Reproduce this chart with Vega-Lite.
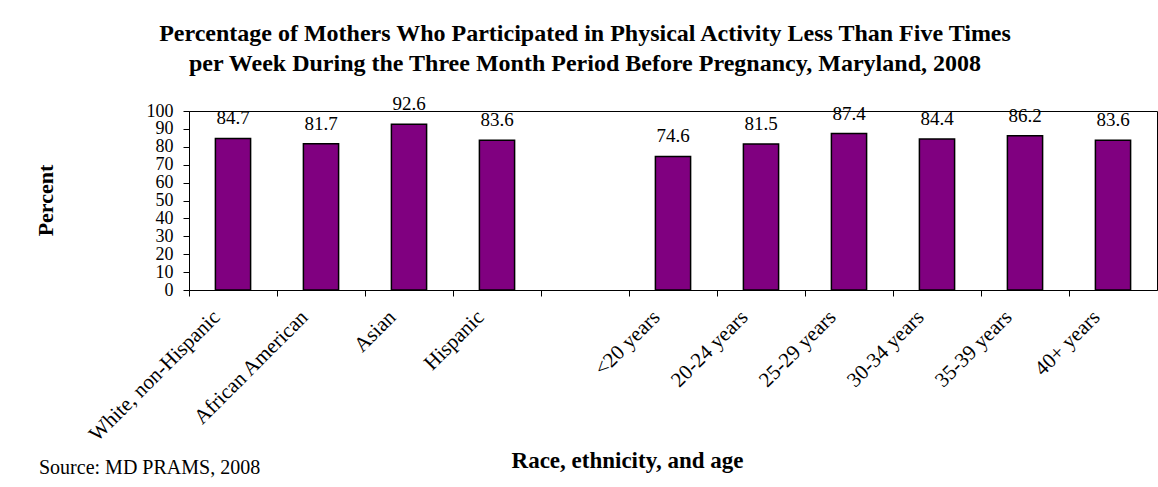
{
  "$schema": "https://vega.github.io/schema/vega-lite/v6.json",
  "width": 968,
  "height": 179,
  "autosize": {"type": "none"},
  "padding": {"left": 189, "top": 111, "right": 1, "bottom": 197},
  "background": "white",
  "config": {
    "font": "Liberation Serif",
    "view": {"stroke": "black", "strokeWidth": 1},
    "axis": {"domainColor": "black", "tickColor": "black", "labelColor": "black", "titleColor": "black", "grid": false}
  },
  "title": {
    "text": ["Percentage of Mothers Who Participated in Physical Activity Less Than Five Times", "per Week During the Three Month Period Before Pregnancy, Maryland, 2008"],
    "font": "Liberation Serif",
    "fontSize": 24,
    "fontWeight": "bold",
    "lineHeight": 30,
    "anchor": "middle",
    "frame": "group",
    "offset": 19,
    "dx": -88,
    "color": "black"
  },
  "data": {
    "values": [
      {"group": "White, non-Hispanic", "percent": 84.7, "note": "Source: MD PRAMS, 2008"},
      {"group": "African American", "percent": 81.7},
      {"group": "Asian", "percent": 92.6},
      {"group": "Hispanic", "percent": 83.6},
      {"group": "<20 years", "percent": 74.6},
      {"group": "20-24 years", "percent": 81.5},
      {"group": "25-29 years", "percent": 87.4},
      {"group": "30-34 years", "percent": 84.4},
      {"group": "35-39 years", "percent": 86.2},
      {"group": "40+ years", "percent": 83.6}
    ]
  },
  "encoding": {
    "x": {
      "field": "group",
      "type": "nominal",
      "sort": null,
      "scale": {
        "domain": ["White, non-Hispanic", "African American", "Asian", "Hispanic", " ", "<20 years", "20-24 years", "25-29 years", "30-34 years", "35-39 years", "40+ years"],
        "paddingInner": 0,
        "paddingOuter": 0
      },
      "axis": {
        "title": "Race, ethnicity, and age",
        "titleFont": "Liberation Serif",
        "titleFontSize": 23,
        "titleFontWeight": "bold",
        "titleX": 438,
        "titleY": 177,
        "titleBaseline": "alphabetic",
        "titleAnchor": "middle",
        "labelAngle": -45,
        "labelAlign": "right",
        "labelBaseline": "top",
        "labelFontSize": 21,
        "labelPadding": 10,
        "labelOffset": -24,
        "tickSize": 6,
        "bandPosition": 0,
        "labelOverlap": false,
        "labelLimit": 0
      }
    },
    "y": {
      "field": "percent",
      "type": "quantitative",
      "scale": {"domain": [0, 100], "nice": false},
      "axis": {
        "title": "Percent",
        "titleFont": "Liberation Serif",
        "titleFontSize": 22,
        "titleFontWeight": "bold",
        "titleX": -144,
        "titleY": 89,
        "titleAngle": -90,
        "titleAlign": "center",
        "titleBaseline": "middle",
        "values": [0, 10, 20, 30, 40, 50, 60, 70, 80, 90, 100],
        "labelFontSize": 18,
        "labelPadding": 10,
        "tickSize": 6,
        "labelOverlap": false,
        "labelFlush": false
      }
    }
  },
  "layer": [
    {
      "mark": {"type": "bar", "color": "#800080", "stroke": "black", "strokeWidth": 1.5, "width": {"band": 0.4}}
    },
    {
      "mark": {"type": "text", "baseline": "alphabetic", "align": "center", "dy": -14, "fontSize": 19, "color": "black", "font": "Liberation Serif"},
      "encoding": {"text": {"field": "percent", "type": "quantitative", "format": ".1f"}}
    },
    {
      "transform": [{"filter": "isValid(datum.note)"}],
      "mark": {"type": "text", "align": "left", "baseline": "alphabetic", "fontSize": 20, "color": "black", "font": "Liberation Serif", "dx": -194, "clip": false},
      "encoding": {
        "x": {"datum": "White, non-Hispanic"},
        "y": {"datum": -103},
        "text": {"field": "note", "type": "nominal"}
      }
    }
  ]
}
